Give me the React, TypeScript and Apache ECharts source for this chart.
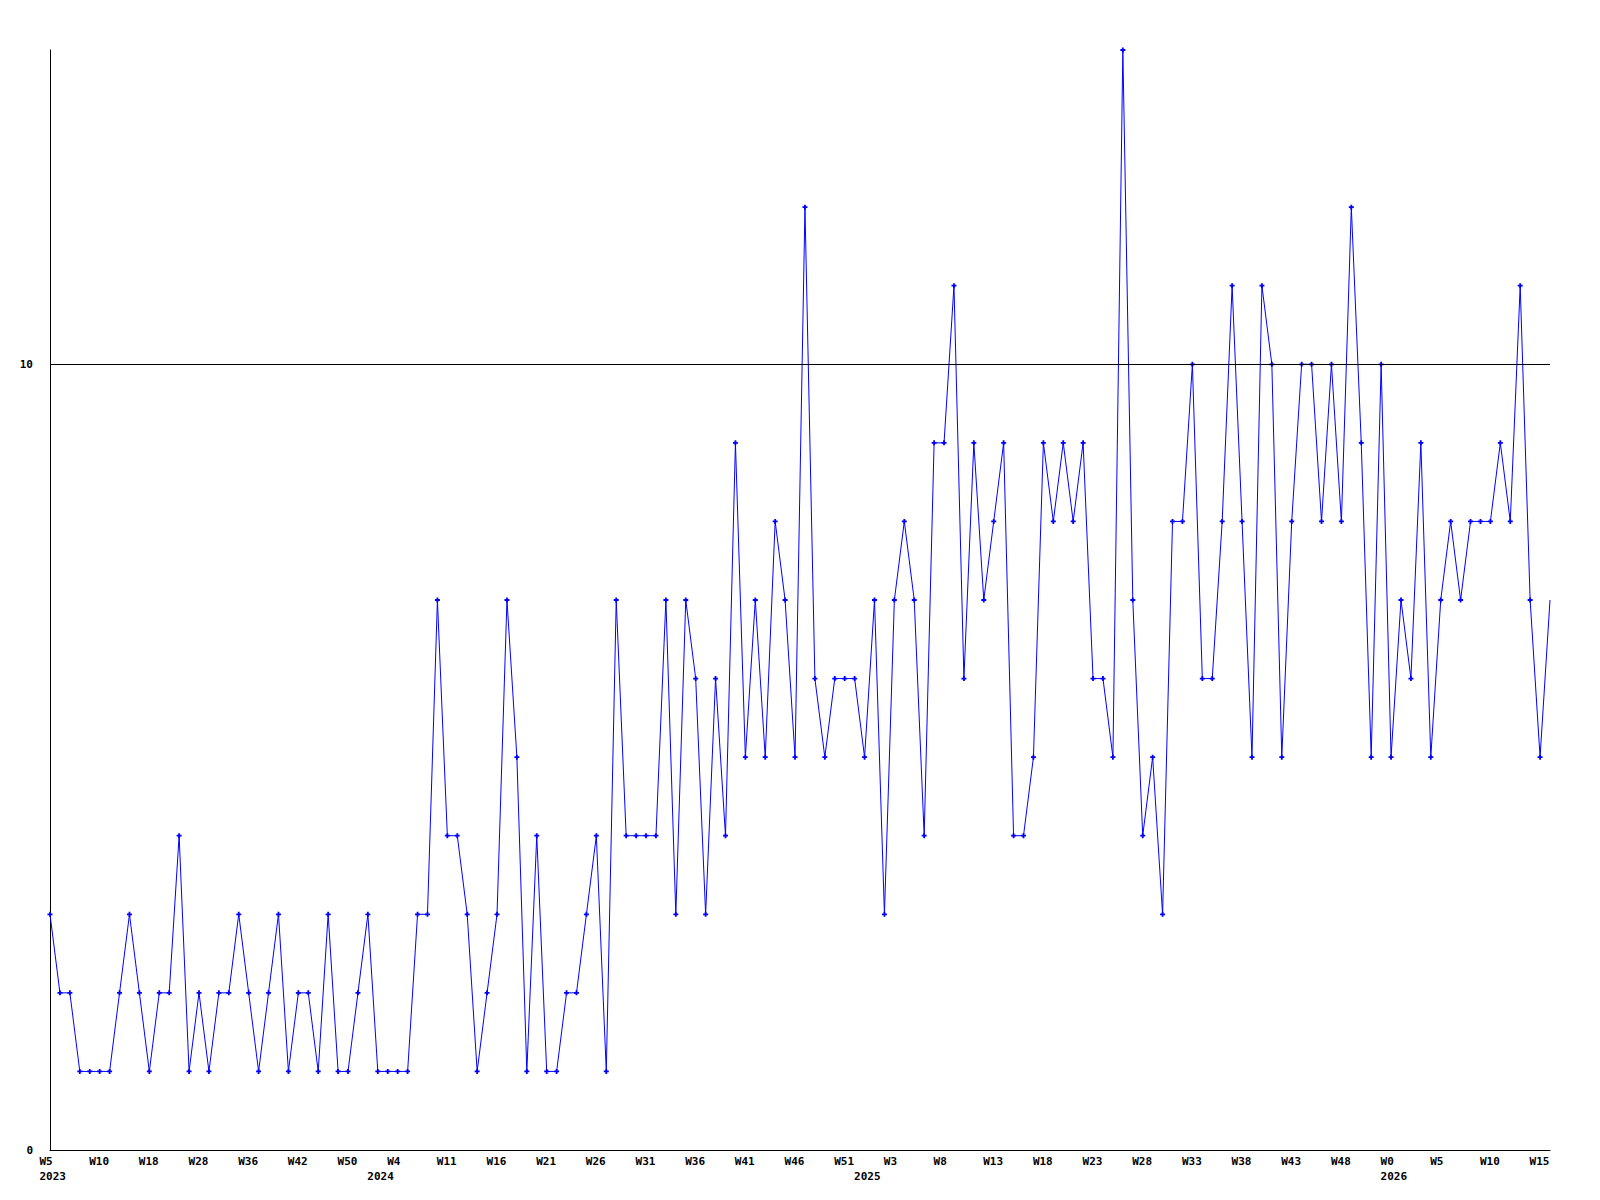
import React, { useEffect, useRef } from "react";
import * as echarts from "echarts";

// weekly values, one per point
const values: number[] = [
  3, 2, 2, 1, 1, 1, 1, 2, 3, 2,
  1, 2, 2, 4, 1, 2, 1, 2, 2, 3,
  2, 1, 2, 3, 1, 2, 2, 1, 3, 1,
  1, 2, 3, 1, 1, 1, 1, 3, 3, 7,
  4, 4, 3, 1, 2, 3, 7, 5, 1, 4,
  1, 1, 2, 2, 3, 4, 1, 7, 4, 4,
  4, 4, 7, 3, 7, 6, 3, 6, 4, 9,
  5, 7, 5, 8, 7, 5, 12, 6, 5, 6,
  6, 6, 5, 7, 3, 7, 8, 7, 4, 9,
  9, 11, 6, 9, 7, 8, 9, 4, 4, 5,
  9, 8, 9, 8, 9, 6, 6, 5, 14, 7,
  4, 5, 3, 8, 8, 10, 6, 6, 8, 11,
  8, 5, 11, 10, 5, 8, 10, 10, 8, 10,
  8, 12, 9, 5, 10, 5, 7, 6, 9, 5,
  7, 8, 7, 8, 8, 8, 9, 8, 11, 7,
  5, 7,
];

// week tick labels, shown on every 5th point
const tickLabels: string[] = [
  "W5", "W10", "W18", "W28", "W36", "W42", "W50", "W4", "W11", "W16",
  "W21", "W26", "W31", "W36", "W41", "W46", "W51", "W3", "W8", "W13",
  "W18", "W23", "W28", "W33", "W38", "W43", "W48", "W0", "W5", "W10", "W15",
];
const tickStep = 5;

// year labels and the point index they sit under
const yearLabels: string[] = ["2023", "2024", "2025", "2026"];
const yearIndex: number[] = [0, 33, 82, 135];

const categories: string[] = values.map((_, i) => String(i));

const FONT = "'DejaVu Sans Mono', 'Liberation Mono', monospace";

export default function App() {
  const ref = useRef<HTMLDivElement>(null);

  useEffect(() => {
    document.body.style.margin = "0";
    if (!ref.current) return;
    const chart = echarts.init(ref.current, undefined, { renderer: "svg" });
    const plus =
      "path://M1.6,0L3.4,0L3.4,1.6L5,1.6L5,3.4L3.4,3.4L3.4,5L1.6,5L1.6,3.4L0,3.4L0,1.6L1.6,1.6Z";
    const seriesData = values.map((v, i) =>
      i === values.length - 1 ? { value: v, symbol: "none" } : v
    );
    chart.setOption({
      animation: false,
      backgroundColor: "#ffffff",
      grid: { left: 50, right: 50, top: 50, bottom: 50, containLabel: false },
      xAxis: [
        {
          type: "category",
          data: categories,
          boundaryGap: false,
          position: "bottom",
          axisLine: { show: true, lineStyle: { color: "#000000", width: 1 } },
          axisTick: { show: false },
          splitLine: { show: false },
          axisLabel: {
            interval: tickStep - 1,
            formatter: (_v: string, idx: number) =>
              idx % tickStep === 0 ? tickLabels[idx / tickStep] ?? "" : "",
            color: "#000000",
            fontFamily: FONT,
            fontWeight: "bold",
            fontSize: 11,
            align: "left",
            padding: [0, 0, 0, -10.5],
            margin: 6,
          },
        },
        {
          type: "category",
          data: categories,
          boundaryGap: false,
          position: "bottom",
          axisLine: { show: false },
          axisTick: { show: false },
          splitLine: { show: false },
          axisLabel: {
            interval: (idx: number) => yearIndex.includes(idx),
            formatter: (_v: string, idx: number) => {
              const k = yearIndex.indexOf(idx);
              return k >= 0 ? yearLabels[k] : "";
            },
            color: "#000000",
            fontFamily: FONT,
            fontWeight: "bold",
            fontSize: 11,
            align: "left",
            padding: [0, 0, 0, -10.5],
            margin: 21,
          },
        },
      ],
      yAxis: {
        type: "value",
        min: 0,
        max: 14,
        interval: 10,
        axisLine: { show: true, lineStyle: { color: "#000000", width: 1 } },
        axisTick: { show: false },
        splitLine: { show: false },
        axisLabel: {
          formatter: (v: number) => (v % 10 === 0 ? String(v) : ""),
          color: "#000000",
          fontFamily: FONT,
          fontWeight: "bold",
          fontSize: 11,
          margin: 17,
        },
      },
      series: [
        {
          type: "line",
          data: seriesData,
          xAxisIndex: 0,
          symbol: plus,
          symbolSize: 5,
          showAllSymbol: true,
          lineStyle: { color: "#0000ff", width: 1 },
          itemStyle: { color: "#0000ff", borderWidth: 0 },
          markLine: {
            silent: true,
            symbol: ["none", "none"],
            label: { show: false },
            lineStyle: { color: "#000000", width: 1, type: "solid" },
            data: [{ yAxis: 10 }],
          },
        },
      ],
    });
    return () => chart.dispose();
  }, []);

  return (
    <div
      ref={ref}
      style={{ position: "absolute", left: 0, top: 0, width: 1600, height: 1200 }}
    />
  );
}
